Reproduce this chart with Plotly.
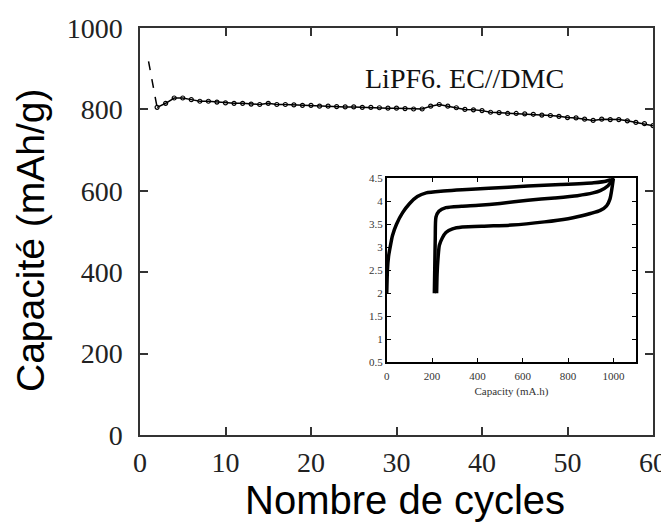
import plotly.graph_objects as go

# Main chart data: capacity vs cycle number
cycles = list(range(1, 61))
capacity = [918, 805, 815, 828, 828, 824, 820, 820, 818, 816,
            815, 815, 813, 812, 815, 812, 812, 811, 810, 810,
            808, 808, 807, 806, 806, 805, 805, 804, 803, 803,
            802, 801, 801, 808, 812, 808, 804, 800, 799, 797,
            793, 792, 790, 790, 789, 788, 786, 785, 783, 780,
            779, 776, 773, 776, 775, 775, 772, 768, 765, 760]

# Inset data: voltage vs capacity curves
curve1_x = [0, 3, 8, 15, 25, 43, 70, 101, 135, 174, 250, 333, 450, 623, 768, 913, 970, 1000]
curve1_y = [2.0, 2.5, 2.8, 3.0, 3.25, 3.5, 3.75, 3.95, 4.1, 4.18, 4.22, 4.25, 4.28, 4.33, 4.36, 4.4, 4.44, 4.5]
curve2_x = [210, 212, 214, 217, 230, 261, 330, 406, 500, 623, 740, 841, 910, 942, 975, 1000]
curve2_y = [2.0, 2.6, 3.2, 3.65, 3.78, 3.86, 3.89, 3.91, 3.95, 4.02, 4.07, 4.12, 4.18, 4.23, 4.33, 4.5]
curve3_x = [220, 222, 226, 232, 245, 261, 290, 333, 450, 551, 696, 800, 841, 942, 970, 985, 1000]
curve3_y = [2.0, 2.4, 2.75, 3.04, 3.2, 3.32, 3.4, 3.44, 3.46, 3.48, 3.55, 3.62, 3.66, 3.8, 3.9, 4.05, 4.5]

main_xticks = [0, 10, 20, 30, 40, 50, 60]
main_yticks = [0, 200, 400, 600, 800, 1000]
inset_xticks = [0, 200, 400, 600, 800, 1000]
inset_yticks = [0.5, 1, 1.5, 2, 2.5, 3, 3.5, 4, 4.5]

fig = go.Figure()

fig.add_trace(go.Scatter(
    x=cycles[:2], y=capacity[:2], mode="lines",
    line=dict(color="black", width=1.5, dash="dash"),
    showlegend=False, xaxis="x", yaxis="y"))
fig.add_trace(go.Scatter(
    x=cycles[1:], y=capacity[1:], mode="lines+markers",
    line=dict(color="black", width=1.5),
    marker=dict(symbol="circle-open", size=4, color="black", line=dict(width=1.2)),
    showlegend=False, xaxis="x", yaxis="y"))

for cx, cy in [(curve1_x, curve1_y), (curve2_x, curve2_y), (curve3_x, curve3_y)]:
    fig.add_trace(go.Scatter(
        x=cx, y=cy, mode="lines",
        line=dict(color="black", width=3.5, shape="spline", smoothing=0.6),
        showlegend=False, xaxis="x2", yaxis="y2"))

serif = "Liberation Serif, Times New Roman, serif"
sans = "Liberation Sans, Arial, sans-serif"

fig.update_layout(
    width=661, height=514,
    margin=dict(l=132, r=16, t=20, b=87, autoexpand=False),
    paper_bgcolor="white", plot_bgcolor="white",
    xaxis=dict(
        domain=[0, 1], range=[0, 60], tickvals=main_xticks, automargin=False,
        ticktext=[str(v) for v in main_xticks],
        showgrid=False, zeroline=False, showline=True, linecolor="#333", linewidth=1.5,
        mirror="ticks", ticks="inside", ticklen=8, tickcolor="#333", tickwidth=1.5,
        tickfont=dict(family=serif, size=28, color="#222"), ticklabelstandoff=2),
    yaxis=dict(
        domain=[0, 1], range=[0, 1000], tickvals=main_yticks, automargin=False,
        ticktext=[str(v) for v in main_yticks],
        showgrid=False, zeroline=False, showline=True, linecolor="#333", linewidth=1.5,
        mirror="ticks", ticks="inside", ticklen=8, tickcolor="#333", tickwidth=1.5,
        tickfont=dict(family=serif, size=28, color="#222"), ticklabelstandoff=10),
    xaxis2=dict(
        domain=[0.481, 0.967], anchor="y2", range=[0, 1100], tickvals=inset_xticks, automargin=False,
        ticktext=[str(v) for v in inset_xticks],
        showgrid=False, zeroline=False, showline=True, linecolor="black", linewidth=1.5,
        mirror="ticks", ticks="inside", ticklen=4, tickcolor="black",
        tickfont=dict(family=serif, size=11, color="#333"), ticklabelstandoff=3,
        title=dict(text="Capacity (mA.h)", font=dict(family=serif, size=11, color="#333"), standoff=6)),
    yaxis2=dict(
        domain=[0.179, 0.631], anchor="x2", range=[0.5, 4.5], tickvals=inset_yticks, automargin=False,
        ticktext=[f"{v:g}" for v in inset_yticks],
        showgrid=False, zeroline=False, showline=True, linecolor="black", linewidth=1.5,
        mirror="ticks", ticks="inside", ticklen=4, tickcolor="black",
        tickfont=dict(family=serif, size=11, color="#333")),
    annotations=[
        dict(text="LiPF6. EC//DMC", x=37.9, y=875, xref="x", yref="y",
             showarrow=False, font=dict(family=serif, size=28, color="#111"),
             xanchor="center", yanchor="middle"),
        dict(text="Nombre de cycles", x=(405 - 140) / 513, y=(435 - 500) / 407,
             xref="paper", yref="paper", showarrow=False,
             font=dict(family=sans, size=40, color="black"),
             xanchor="center", yanchor="middle"),
        dict(text="Capacité (mAh/g)", x=(31 - 140) / 513, y=(435 - 241) / 407,
             xref="paper", yref="paper", showarrow=False, textangle=-90,
             font=dict(family=sans, size=39, color="black"),
             xanchor="center", yanchor="middle"),
    ],
)

fig.write_html("out.html")
